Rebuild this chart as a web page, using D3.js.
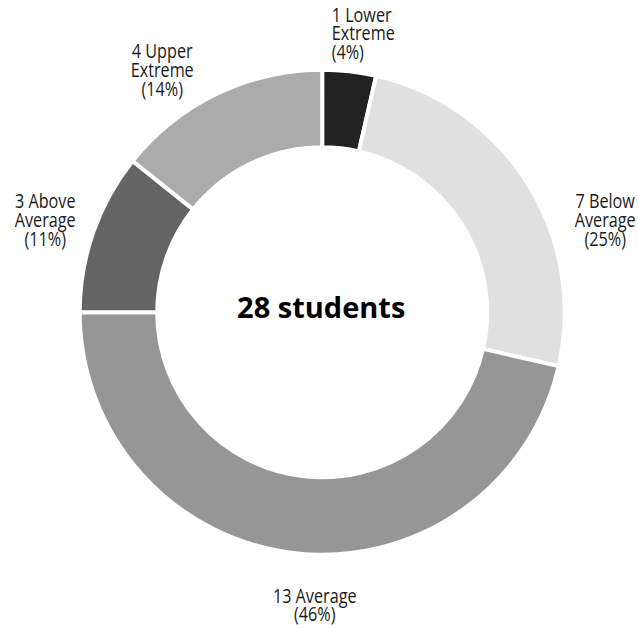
<!DOCTYPE html>
<html>
<head>
<meta charset="utf-8">
<script src="https://cdn.jsdelivr.net/npm/d3@7"></script>
<style>
  html, body { margin: 0; padding: 0; background: #fff; }
  svg { display: block; }
  .lbl { font-family: "Open Sans", "Noto Sans", sans-serif; font-size: 20.5px; fill: #1a1a1a; }
  .center { font-family: "Open Sans", "Noto Sans", sans-serif; font-weight: 700; font-size: 29px; fill: #000; }
</style>
</head>
<body>
<svg id="chart" width="638" height="628"></svg>
<script>
// ---- data ----
const categories = ["Lower Extreme", "Below Average", "Average", "Above Average", "Upper Extreme"];
const counts = [1, 7, 13, 3, 4];
const colors = ["#222222", "#e0e0e0", "#969696", "#646464", "#ababab"];
const centerUnit = "students";

// ---- layout ----
const cx = 322.2, cy = 312.2;
const outerR = 242.5, innerR = 165;
const lineGap = 18.7;
const squeeze = 0.79; // condensed look
// label anchor (first-line baseline) relative to centre, per slice
const labelPos = [
  { dx: 9.5, dy: -290.5, anchor: "start" },
  { dx: 283, dy: -104, anchor: "middle" },
  { dx: -7.5, dy: 290.5, anchor: "middle" },
  { dx: -277, dy: -104, anchor: "middle" },
  { dx: -160, dy: -254, anchor: "middle" }
];

const total = d3.sum(counts);
const data = categories.map((c, i) => ({ cat: c, value: counts[i], color: colors[i], i }));

const svg = d3.select("#chart");
const g = svg.append("g").attr("transform", `translate(${cx},${cy})`);

const pie = d3.pie().value(d => d.value).sort(null);
const arc = d3.arc().innerRadius(innerR).outerRadius(outerR);

g.selectAll("path.slice")
  .data(pie(data))
  .join("path")
  .attr("class", "slice")
  .attr("d", arc)
  .attr("fill", d => d.data.color)
  .attr("stroke", "#fff")
  .attr("stroke-width", 4)
  .attr("stroke-linejoin", "miter");

g.append("text")
  .attr("class", "center")
  .attr("x", -1)
  .attr("y", 6)
  .attr("text-anchor", "middle")
  .text(`${total} ${centerUnit}`);

const labels = g.selectAll("text.lbl")
  .data(data)
  .join("text")
  .attr("class", "lbl")
  .attr("text-anchor", d => labelPos[d.i].anchor)
  .attr("transform", d => `translate(${labelPos[d.i].dx},${labelPos[d.i].dy}) scale(${squeeze},1)`);

labels.each(function(d) {
  const words = d.cat.split(" ");
  const lines = [`${d.value} ${words[0]}`];
  if (words.length > 1) lines.push(words.slice(1).join(" "));
  lines.push(`(${Math.round(d.value / total * 100)}%)`);
  d3.select(this).selectAll("tspan")
    .data(lines)
    .join("tspan")
    .attr("x", 0)
    .attr("y", (l, k) => k * lineGap)
    .text(l => l);
});
</script>
</body>
</html>
